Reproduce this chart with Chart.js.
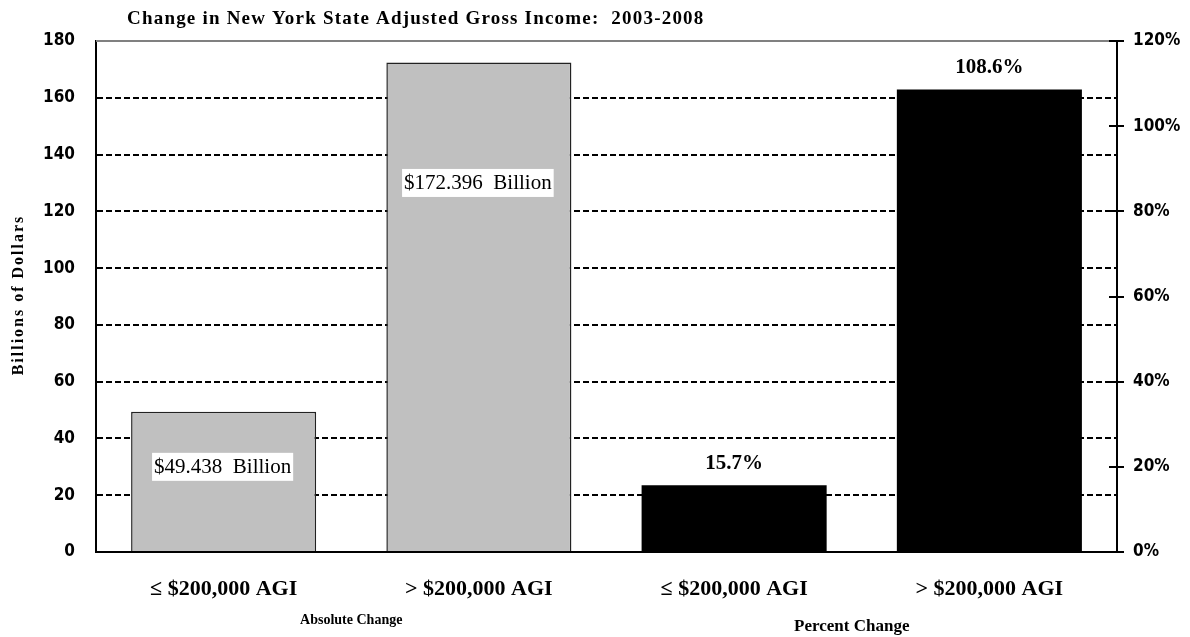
<!DOCTYPE html>
<html lang="en">
<head>
    <meta charset="UTF-8">
    <title>Change in New York State Adjusted Gross Income: 2003-2008</title>
    <style>
        body {
            margin: 0;
            padding: 0;
            background: #fff;
        }
        .chart-container {
            position: relative;
            width: 1190px;
            height: 637px;
        }
    </style>
    <script src="https://cdn.jsdelivr.net/npm/chart.js"></script>
</head>
<body>
    <div class="chart-container">
        <canvas id="agiChart" width="1190" height="637"></canvas>
    </div>

    <script>
        // Data
        const categories = ['\u2264 $200,000 AGI', '> $200,000 AGI', '\u2264 $200,000 AGI', '> $200,000 AGI'];
        const absoluteChange = [49.438, 172.396, null, null];   // billions of dollars, left axis
        const percentChange = [null, null, 15.7, 108.6];        // percent, right axis
        const absoluteLabels = ['$49.438  Billion', '$172.396  Billion', '', ''];
        const percentLabels = ['', '', '15.7%', '108.6%'];
        const groupLabels = ['Absolute Change', 'Percent Change'];
        const leftTicks = [0, 20, 40, 60, 80, 100, 120, 140, 160, 180];
        const rightTicks = [0, 20, 40, 60, 80, 100, 120];
        const chartTitle = 'Change in New York State Adjusted Gross Income:  2003-2008';
        const leftAxisTitle = 'Billions of Dollars';

        const serif = "'Liberation Serif', 'Times New Roman', serif";
        const condensed = "'DejaVu Sans Condensed', 'DejaVu Sans', sans-serif";

        // Titles, value labels, top border and the inward half of the right ticks
        const decorations = {
            id: 'decorations',
            afterDatasetsDraw(chart) {
                const ctx = chart.ctx;
                const area = chart.chartArea;
                const y = chart.scales.y;
                const y1 = chart.scales.y1;
                const x = chart.scales.x;

                ctx.save();

                // gray line at the top of the plot
                ctx.strokeStyle = '#808080';
                ctx.lineWidth = 2;
                ctx.beginPath();
                ctx.moveTo(area.left, area.top);
                ctx.lineTo(area.right, area.top);
                ctx.stroke();

                // right axis ticks cross the axis
                ctx.strokeStyle = '#000';
                ctx.lineWidth = 2;
                rightTicks.forEach(v => {
                    const py = Math.round(y1.getPixelForValue(v));
                    ctx.beginPath();
                    ctx.moveTo(area.right - 8, py);
                    ctx.lineTo(area.right, py);
                    ctx.stroke();
                });

                // chart title
                ctx.fillStyle = '#000';
                ctx.font = 'bold 19px ' + serif;
                ctx.textAlign = 'left';
                ctx.textBaseline = 'middle';
                ctx.letterSpacing = '1.2px';
                ctx.fillText(chartTitle, 127, 19);

                // left axis title
                ctx.save();
                ctx.translate(19, 295);
                ctx.rotate(-Math.PI / 2);
                ctx.textAlign = 'center';
                ctx.font = 'bold 16px ' + serif;
                ctx.letterSpacing = '2px';
                ctx.fillText(leftAxisTitle, 0, 0);
                ctx.restore();
                ctx.letterSpacing = '0px';

                // dollar labels in white boxes inside the gray bars
                const absMeta = chart.getDatasetMeta(0);
                const labelAt = [30, 130];
                ctx.font = '21px ' + serif;
                ctx.textAlign = 'center';
                absoluteLabels.forEach((txt, i) => {
                    if (!txt) return;
                    const bar = absMeta.data[i];
                    const cx = bar.x - 1;
                    const cy = y.getPixelForValue(labelAt[i]);
                    const w = ctx.measureText(txt).width + 4;
                    ctx.fillStyle = '#fff';
                    ctx.fillRect(cx - w / 2, cy - 14, w, 28);
                    ctx.fillStyle = '#000';
                    ctx.fillText(txt, cx, cy + 1);
                });

                // percent labels above the black bars
                const pctMeta = chart.getDatasetMeta(1);
                ctx.font = 'bold 21px ' + serif;
                percentLabels.forEach((txt, i) => {
                    if (!txt) return;
                    const bar = pctMeta.data[i];
                    ctx.fillText(txt, bar.x, bar.y - 22);
                });

                // group labels under the category labels
                const groupFont = [14, 17];
                const groupY = [620, 627];
                const groupDx = [0, -10];
                groupLabels.forEach((txt, g) => {
                    const a = x.getPixelForValue(g * 2);
                    const b = x.getPixelForValue(g * 2 + 1);
                    ctx.font = 'bold ' + groupFont[g] + 'px ' + serif;
                    ctx.fillText(txt, (a + b) / 2 + groupDx[g], groupY[g]);
                });

                ctx.restore();
            }
        };

        const ctx = document.getElementById('agiChart').getContext('2d');
        new Chart(ctx, {
            type: 'bar',
            data: {
                labels: categories,
                datasets: [{
                    label: 'Absolute Change',
                    data: absoluteChange,
                    yAxisID: 'y',
                    backgroundColor: '#c0c0c0',
                    borderColor: '#222',
                    borderWidth: 1.5
                }, {
                    label: 'Percent Change',
                    data: percentChange,
                    yAxisID: 'y1',
                    backgroundColor: '#000',
                    borderWidth: 0
                }]
            },
            options: {
                responsive: false,
                animation: false,
                grouped: false,
                categoryPercentage: 1,
                barPercentage: 0.725,
                layout: { padding: { top: 41, left: 0, right: 0, bottom: 0 } },
                plugins: {
                    legend: { display: false },
                    tooltip: { enabled: false }
                },
                scales: {
                    x: {
                        grid: { display: false },
                        border: { display: true, color: '#000', width: 2 },
                        ticks: {
                            color: '#000',
                            padding: 16,
                            maxRotation: 0,
                            font: { family: serif, size: 22, weight: 'bold' }
                        },
                        afterFit: s => { s.height = 85; }
                    },
                    y: {
                        position: 'left',
                        min: 0,
                        max: 180,
                        afterBuildTicks: s => { s.ticks = leftTicks.map(v => ({ value: v })); },
                        grid: {
                            color: c => (c.tick && (c.tick.value === 0 || c.tick.value === 180)) ? 'rgba(0,0,0,0)' : '#000',
                            lineWidth: 2,
                            drawTicks: false
                        },
                        border: { display: true, color: '#000', width: 2, dash: [6, 3] },
                        ticks: {
                            color: '#000',
                            padding: 21,
                            font: { family: condensed, size: 17, weight: 'bold' }
                        },
                        afterFit: s => { s.width = 96; }
                    },
                    y1: {
                        position: 'right',
                        min: 0,
                        max: 120,
                        afterBuildTicks: s => { s.ticks = rightTicks.map(v => ({ value: v })); },
                        grid: {
                            drawOnChartArea: false,
                            drawTicks: true,
                            tickLength: 7,
                            tickColor: '#000',
                            tickWidth: 2,
                            color: '#000',
                            lineWidth: 2
                        },
                        border: { display: true, color: '#000', width: 2 },
                        ticks: {
                            color: '#000',
                            padding: 9,
                            callback: v => v + '%',
                            font: { family: condensed, size: 17, weight: 'bold' }
                        },
                        afterFit: s => { s.width = 73; }
                    }
                }
            },
            plugins: [decorations]
        });
    </script>
</body>
</html>
